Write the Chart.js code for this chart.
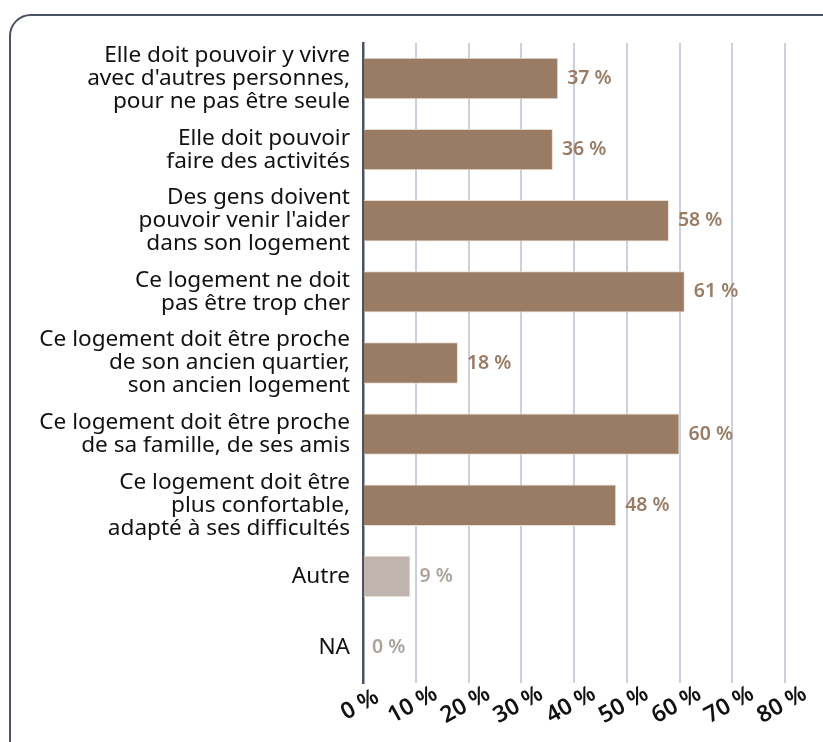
<!DOCTYPE html>
<html>
<head>
<meta charset="utf-8">
<script src="https://cdn.jsdelivr.net/npm/chart.js@4/dist/chart.umd.min.js"></script>
<style>
  html, body { margin: 0; padding: 0; background: #fff; overflow: hidden; }
  #wrap { position: relative; width: 823px; height: 742px; }
  #frame {
    position: absolute; left: 9px; top: 14px; width: 840px; height: 760px;
    border: 2.5px solid #4b5263; border-radius: 22px; box-sizing: border-box;
  }
  canvas { position: absolute; left: 0; top: 0; }
</style>
</head>
<body>
<div id="wrap">
  <div id="frame"></div>
  <canvas id="barChart" width="823" height="742"></canvas>
</div>
<script>
// categories (multi-line labels)
var categories = [
  ["Elle doit pouvoir y vivre", "avec d'autres personnes,", "pour ne pas être seule"],
  ["Elle doit pouvoir", "faire des activités"],
  ["Des gens doivent", "pouvoir venir l'aider", "dans son logement"],
  ["Ce logement ne doit", "pas être trop cher"],
  ["Ce logement doit être proche", "de son ancien quartier,", "son ancien logement"],
  ["Ce logement doit être proche", "de sa famille, de ses amis"],
  ["Ce logement doit être", "plus confortable,", "adapté à ses difficultés"],
  ["Autre"],
  ["NA"]
];
var values = [37, 36, 58, 61, 18, 60, 48, 9, 0];
var xTicks = [0, 10, 20, 30, 40, 50, 60, 70, 80];

var mainColor = '#9a7b63';
var otherColor = '#bfb5ae';
var barColors = values.map(function (v, i) { return i >= 7 ? otherColor : mainColor; });
var labelColors = values.map(function (v, i) { return i >= 7 ? '#aca39c' : mainColor; });

var fontFamily = '"Noto Sans", "Open Sans", sans-serif';

// value labels at the end of each bar + rotated x tick labels
var labelPlugin = {
  id: 'labels',
  afterDatasetsDraw: function (chart) {
    var ctx = chart.ctx;
    var meta = chart.getDatasetMeta(0);
    ctx.save();
    ctx.font = '600 19.5px ' + fontFamily;
    ctx.textBaseline = 'middle';
    ctx.textAlign = 'left';
    meta.data.forEach(function (bar, i) {
      ctx.fillStyle = labelColors[i];
      ctx.fillText(values[i] + ' %', bar.x + 9, bar.y);
    });
    ctx.restore();
  },
  afterDraw: function (chart) {
    var ctx = chart.ctx;
    var xs = chart.scales.x;
    ctx.save();
    ctx.font = '600 23px ' + fontFamily;
    ctx.fillStyle = '#111';
    ctx.textAlign = 'center';
    ctx.textBaseline = 'middle';
    xTicks.forEach(function (t) {
      var x = xs.getPixelForValue(t);
      ctx.save();
      ctx.translate(x - 3, chart.chartArea.bottom + 22);
      ctx.rotate(-29 * Math.PI / 180);
      ctx.fillText(t + ' %', 0, 0);
      ctx.restore();
    });
    ctx.restore();
  }
};

var barCtx = document.getElementById('barChart').getContext('2d');

var barChart = new Chart(barCtx, {
  type: 'bar',
  data: {
    labels: categories,
    datasets: [{
      data: values,
      backgroundColor: barColors,
      borderColor: '#eadbd0',
      borderWidth: 1,
      barPercentage: 0.82,
      categoryPercentage: 0.71
    }]
  },
  options: {
    indexAxis: 'y',
    responsive: false,
    animation: false,
    layout: { padding: { top: 43, right: 38, left: 0, bottom: 0 } },
    plugins: {
      legend: { display: false },
      tooltip: { enabled: false }
    },
    scales: {
      x: {
        min: 0,
        max: 80,
        ticks: { display: false, stepSize: 10 },
        grid: { color: '#ccd0dc', lineWidth: 2, drawTicks: false },
        border: { display: false },
        afterFit: function (scale) { scale.height = 59; }
      },
      y: {
        grid: { display: false, drawTicks: false },
        border: { color: '#4b5263', width: 2.5 },
        ticks: {
          color: '#111',
          padding: 13,
          autoSkip: false,
          font: { family: fontFamily, size: 22.6, lineHeight: 1.02 }
        },
        afterFit: function (scale) { scale.width = 363; }
      }
    }
  },
  plugins: [labelPlugin]
});
</script>
</body>
</html>
